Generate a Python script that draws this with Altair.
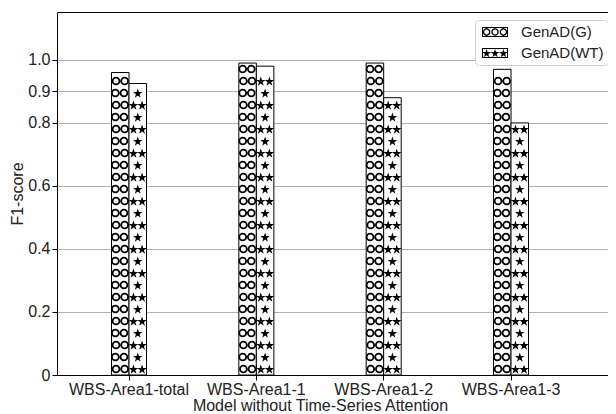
import math
import altair as alt
import pandas as pd

# ---- data ----
categories = ["WBS-Area1-total", "WBS-Area1-1", "WBS-Area1-2", "WBS-Area1-3"]
series_names = ["GenAD(G)", "GenAD(WT)"]
g_values = [0.96, 0.99, 0.99, 0.97]
wt_values = [0.925, 0.98, 0.88, 0.80]
y_ticks = [0, 0.2, 0.4, 0.6, 0.8, 0.9, 1.0]
x_title = "Model without Time-Series Attention"
y_title = "F1-score"

# ---- layout / style ----
PLOT_W, PLOT_H = 551, 363
Y_MAX = 1.152
PX_PER_UNIT = PLOT_H / Y_MAX
ROW_STEP = 12 / PX_PER_UNIT          # hatch row spacing (decoration)
SYM_HALF = 4.5 / PX_PER_UNIT
AXIS_FONT = "Liberation Sans"
LEG_FONT = "Liberation Sans"


def star(cx, cy, R, s=1.0):
    r = R * 0.382
    pts = []
    for i in range(10):
        a = -math.pi / 2 + i * math.pi / 5
        rad = R if i % 2 == 0 else r
        pts.append(((cx + rad * math.cos(a)) / s, (cy + rad * math.sin(a)) / s))
    return "M" + "L".join(f"{x:.3f},{y:.3f}" for x, y in pts) + "Z"


def circ(cx, cy, r, sweep=1, s=1.0):
    cx, cy, r = cx / s, cy / s, r / s
    return (f"M{cx - r:.3f},{cy:.3f}A{r:.3f},{r:.3f} 0 1,{sweep} {cx + r:.3f},{cy:.3f}"
            f"A{r:.3f},{r:.3f} 0 1,{sweep} {cx - r:.3f},{cy:.3f}Z")


def rect(x0, y0, x1, y1, cw=True, s=1.0):
    x0, y0, x1, y1 = x0 / s, y0 / s, x1 / s, y1 / s
    if cw:
        return f"M{x0:.3f},{y0:.3f}L{x1:.3f},{y0:.3f}L{x1:.3f},{y1:.3f}L{x0:.3f},{y1:.3f}Z"
    return f"M{x0:.3f},{y0:.3f}L{x0:.3f},{y1:.3f}L{x1:.3f},{y1:.3f}L{x1:.3f},{y0:.3f}Z"


# hatch symbols inside bars (pixel coordinates, size=4 -> scale 1)
circ_a = circ(-4.2, 0, 3.4) + circ(4.4, 0, 3.4)
circ_b = circ(-4.9, 0, 3.4) + circ(3.7, 0, 3.4)
star_a = star(-4.3, 0.6, 5.0) + star(4.3, 0.6, 5.0)
star_b = star(0, 0.6, 5.0)

# legend swatches (unit = 8 px for symbolSize 256)
U = 8.0
frame = rect(-13, -5, 13, 5, True, U) + rect(-12, -4, 12, 4, False, U)
leg_g = frame + "".join(circ(cx, 0, 3.7, 1, U) + circ(cx, 0, 2.4, 0, U) for cx in (-8.4, 0, 8.4))
leg_wt = frame + "".join(star(cx, 0.5, 4.6, U) for cx in (-8.4, 0, 8.4))

bars = pd.DataFrame({
    "category": categories * 2,
    "series": [series_names[0]] * 4 + [series_names[1]] * 4,
    "value": g_values + wt_values,
})

rows = []
for _, r in bars.iterrows():
    k = 0
    while (k + 0.5) * ROW_STEP + SYM_HALF <= r["value"]:
        rows.append({"category": r["category"], "series": r["series"],
                     "y": (k + 0.5) * ROW_STEP, "row": "a" if k % 2 == 0 else "b"})
        k += 1
hatch = pd.DataFrame(rows)

x_enc = alt.X("category:N", sort=categories,
              scale=alt.Scale(domain=categories, paddingInner=0.725,
                              paddingOuter=0.526, align=0.4068),
              axis=alt.Axis(title=x_title, labelAngle=0, labelFont=AXIS_FONT,
                            labelFontSize=16, labelColor="#222", titleFont=AXIS_FONT,
                            titleFontSize=16, titleColor="#222", titleFontWeight="normal",
                            tickSize=5, tickColor="black", domainColor="black",
                            labelPadding=1, titlePadding=0, grid=False,
                            titleX=263, titleAlign="center"))
xoff = alt.XOffset("series:N", scale=alt.Scale(domain=series_names))
y_scale = alt.Scale(domain=[0, Y_MAX], nice=False, zero=True)

bar_layer = alt.Chart(bars).mark_bar(fill="white", stroke="black", strokeWidth=1).encode(
    x=x_enc,
    xOffset=xoff,
    y=alt.Y("value:Q", scale=y_scale,
            axis=alt.Axis(title=y_title, values=y_ticks,
                          labelExpr="datum.value == 0 ? '0' : format(datum.value, '.1f')",
                          labelFont=AXIS_FONT, labelFontSize=16, labelColor="#222",
                          titleFont=AXIS_FONT, titleFontSize=16, titleColor="#222",
                          titleFontWeight="normal", tickSize=5, tickColor="black",
                          domainColor="black", gridColor="#b0b0b0", gridWidth=1,
                          labelPadding=2, titlePadding=2)),
)

circ_layer = alt.Chart(hatch).transform_filter(
    alt.datum.series == series_names[0]
).mark_point(filled=False, stroke="black", strokeWidth=1.8, size=4, opacity=1).encode(
    x=alt.X("category:N", sort=categories, axis=None),
    xOffset=xoff,
    y=alt.Y("y:Q", scale=y_scale, axis=None),
    shape=alt.Shape("row:N", scale=alt.Scale(domain=["a", "b"], range=[circ_a, circ_b]), legend=None),
)

star_layer = alt.Chart(hatch).transform_filter(
    alt.datum.series == series_names[1]
).mark_point(filled=True, fill="black", strokeWidth=0, size=4, opacity=1).encode(
    x=alt.X("category:N", sort=categories, axis=None),
    xOffset=xoff,
    y=alt.Y("y:Q", scale=y_scale, axis=None),
    shape=alt.Shape("row:N", scale=alt.Scale(domain=["a", "b"], range=[star_a, star_b]), legend=None),
)

legend_layer = alt.Chart(bars).mark_point(filled=True, color="black", opacity=0).encode(
    x=alt.X("category:N", sort=categories,
            axis=alt.Axis(orient="top", labels=False, ticks=False, title=None, grid=False,
                          domain=True, domainColor="black", minExtent=0, maxExtent=0)),
    xOffset=xoff,
    y=alt.Y("value:Q", scale=y_scale, axis=None),
    shape=alt.Shape("series:N", scale=alt.Scale(domain=series_names, range=[leg_g, leg_wt]),
                    legend=alt.Legend(title=None, orient="none", legendX=418, legendY=8,
                                      symbolSize=256, symbolFillColor="black",
                                      symbolStrokeWidth=0, symbolOpacity=1, symbolOffset=8,
                                      labelFont=LEG_FONT, labelFontSize=15, labelColor="#222",
                                      labelOffset=18, padding=4, rowPadding=5,
                                      strokeColor="#d0d0d0", fillColor="white",
                                      cornerRadius=4)),
)

chart = alt.layer(bar_layer, circ_layer, star_layer, legend_layer).resolve_scale(
    shape="independent"
).resolve_axis(x="independent", y="independent").properties(
    width=PLOT_W, height=PLOT_H,
    autosize=alt.AutoSizeParams(type="none"),
    padding={"left": 49, "top": 4, "right": 0, "bottom": 38},
).configure_view(stroke=None)

chart.save("out.html", embed_options={"renderer": "svg", "actions": False})
